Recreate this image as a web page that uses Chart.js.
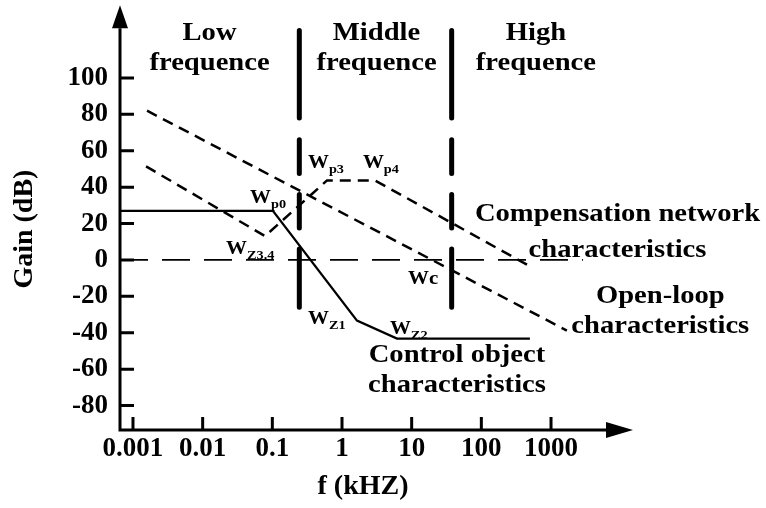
<!DOCTYPE html>
<html>
<head>
<meta charset="utf-8">
<script src="https://cdn.jsdelivr.net/npm/chart.js@4/dist/chart.umd.min.js"></script>
<style>
  html, body { margin: 0; padding: 0; background: #fff; }
  #wrap { width: 766px; height: 508px; }
</style>
</head>
<body>
<div id="wrap"><canvas id="bode"></canvas></div>
<script>
// axis ranges and ticks
const freqRange = [0.000651, 6155];
const gainRange = [-93.4, 127.3];
const xTicks = [0.001, 0.01, 0.1, 1, 10, 100, 1000];
const yTicks = [-80, -60, -40, -20, 0, 20, 40, 60, 80, 100];

// control object characteristics (solid)
const controlFreq = [0.000651, 0.102, 1.64, 6.15, 498];
const controlGain = [27, 27, -33.3, -43.2, -43.2];

// compensation network characteristics (dashed)
const compFreq = [0.00154, 0.0786, 0.61, 2.97, 550];
const compGain = [51.4, 13.1, 43.7, 43.7, -4.4];

// open-loop characteristics (dashed)
const openFreq = [0.00159, 1690];
const openGain = [82, -38.8];

// 0 dB reference line
const zeroFreq = [0.000651, 2870];
const zeroGain = [0, 0];

// band separators
const sepFreqs = [0.244, 37.5];
const sepSegments = [[126, 78], [66, 47.5], [36, 17.5], [6, -26]];

// text notes: lines, anchor (freq, gain) of first baseline
const notes = [
  { lines: ["Low", "frequence"], f: 0.01256, g: 120.6, step: 30 },
  { lines: ["Middle", "frequence"], f: 3.13, g: 120.6, step: 30 },
  { lines: ["High", "frequence"], f: 607, g: 120.7, step: 30 },
  { lines: ["Compensation network", "characteristics"], f: 9000, g: 21.3, step: 36 },
  { lines: ["Open-loop", "characteristics"], f: 37000, g: -23.5, step: 30 },
  { lines: ["Control object", "characteristics"], f: 44.7, g: -56.3, step: 30 }
];

// corner labels W with subscript
const corners = [
  { main: "W", sub: "p0", f: 0.0479, g: 31.1 },
  { main: "W", sub: "p3", f: 0.325, g: 50.3 },
  { main: "W", sub: "p4", f: 2.0, g: 50.3 },
  { main: "W", sub: "Z3.4", f: 0.0217, g: 3.3 },
  { main: "Wc", sub: "", f: 8.85, g: -13.1 },
  { main: "W", sub: "Z1", f: 0.325, g: -35 },
  { main: "W", sub: "Z2", f: 4.88, g: -40.4 }
];

const pts = (fs, gs) => fs.map((f, i) => ({ x: f, y: gs[i] }));
const sepData = (f) =>
  sepSegments.flatMap(([a, b], i) =>
    i ? [{ x: f, y: null }, { x: f, y: a }, { x: f, y: b }] : [{ x: f, y: a }, { x: f, y: b }]
  );

const serif = '"Liberation Serif", "Times New Roman", serif';
const STRETCH = 1.1;

const drawText = (ctx, text, x, y, size, align) => {
  ctx.save();
  ctx.font = `bold ${size}px ${serif}`;
  ctx.textAlign = align;
  ctx.textBaseline = "alphabetic";
  ctx.translate(x, y);
  ctx.scale(STRETCH, 1);
  ctx.fillText(text, 0, 0);
  const w = ctx.measureText(text).width * STRETCH;
  ctx.restore();
  return w;
};

const decorations = {
  id: "decorations",
  afterDraw(chart) {
    const { ctx, chartArea: a, scales } = chart;
    const xs = scales.x, ys = scales.y;
    ctx.save();
    ctx.fillStyle = "#000";
    ctx.strokeStyle = "#000";
    ctx.lineWidth = 3;
    ctx.setLineDash([]);

    // axes
    ctx.beginPath();
    ctx.moveTo(a.left, a.top);
    ctx.lineTo(a.left, a.bottom);
    ctx.lineTo(a.right, a.bottom);
    ctx.stroke();

    // arrows
    ctx.beginPath();
    ctx.moveTo(a.left, a.top - 23);
    ctx.lineTo(a.left - 8, a.top);
    ctx.lineTo(a.left + 8, a.top);
    ctx.closePath();
    ctx.fill();
    ctx.beginPath();
    ctx.moveTo(a.right + 27, a.bottom);
    ctx.lineTo(a.right, a.bottom - 8);
    ctx.lineTo(a.right, a.bottom + 8);
    ctx.closePath();
    ctx.fill();

    // inner tick marks
    ctx.beginPath();
    yTicks.forEach((v) => {
      const py = ys.getPixelForValue(v);
      ctx.moveTo(a.left, py);
      ctx.lineTo(a.left + 14, py);
    });
    xTicks.forEach((v) => {
      const px = xs.getPixelForValue(v);
      ctx.moveTo(px, a.bottom);
      ctx.lineTo(px, a.bottom - 13);
    });
    ctx.stroke();

    // text notes
    notes.forEach((n) => {
      const px = xs.getPixelForValue(n.f);
      const py = ys.getPixelForValue(n.g);
      n.lines.forEach((t, i) => drawText(ctx, t, px, py + i * n.step, 26, "center"));
    });

    corners.forEach((c) => {
      const px = xs.getPixelForValue(c.f);
      const py = ys.getPixelForValue(c.g);
      const w = drawText(ctx, c.main, px, py, 19, "left");
      if (c.sub) drawText(ctx, c.sub, px + w, py + 5, 13, "left");
    });
    ctx.restore();
  }
};

const lineBase = {
  borderColor: "#000",
  pointRadius: 0,
  tension: 0,
  fill: false
};

new Chart(document.getElementById("bode"), {
  type: "line",
  data: {
    datasets: [
      { ...lineBase, label: "Control object", data: pts(controlFreq, controlGain), borderWidth: 2.3 },
      { ...lineBase, label: "Compensation network", data: pts(compFreq, compGain), borderWidth: 2.5, borderDash: [11, 7] },
      { ...lineBase, label: "Open-loop", data: pts(openFreq, openGain), borderWidth: 2.5, borderDash: [11, 7] },
      { ...lineBase, label: "0 dB", data: pts(zeroFreq, zeroGain), borderWidth: 1.7, borderDash: [28, 14] },
      ...sepFreqs.map((f) => ({
        ...lineBase,
        label: "separator",
        data: sepData(f),
        borderWidth: 5,
        borderCapStyle: "round",
        spanGaps: false,
        clip: false
      }))
    ]
  },
  options: {
    responsive: true,
    maintainAspectRatio: false,
    animation: false,
    layout: { padding: { top: 26, right: 160, left: 0, bottom: 0 } },
    plugins: { legend: { display: false }, tooltip: { enabled: false } },
    scales: {
      x: {
        type: "logarithmic",
        min: freqRange[0],
        max: freqRange[1],
        grid: { display: false, drawTicks: false },
        border: { display: false },
        afterBuildTicks: (axis) => { axis.ticks = xTicks.map((v) => ({ value: v })); },
        afterFit: (axis) => { axis.height = 78; },
        ticks: {
          color: "#000",
          padding: 3,
          maxRotation: 0,
          autoSkip: false,
          font: { family: serif, size: 27, weight: "bold" },
          callback: (v) => String(v)
        },
        title: {
          display: true,
          text: "f (kHZ)",
          color: "#000",
          padding: { top: 0, bottom: 4 },
          font: { family: serif, size: 28, weight: "bold" }
        }
      },
      y: {
        min: gainRange[0],
        max: gainRange[1],
        grid: { display: false, drawTicks: false },
        border: { display: false },
        afterBuildTicks: (axis) => { axis.ticks = yTicks.map((v) => ({ value: v })); },
        afterFit: (axis) => { axis.width = 120; },
        ticks: {
          color: "#000",
          padding: 12,
          font: { family: serif, size: 27, weight: "bold" }
        },
        title: {
          display: true,
          text: "Gain (dB)",
          color: "#000",
          padding: { top: 8, bottom: 0 },
          font: { family: serif, size: 28, weight: "bold" }
        }
      }
    }
  },
  plugins: [decorations]
});
</script>
</body>
</html>
